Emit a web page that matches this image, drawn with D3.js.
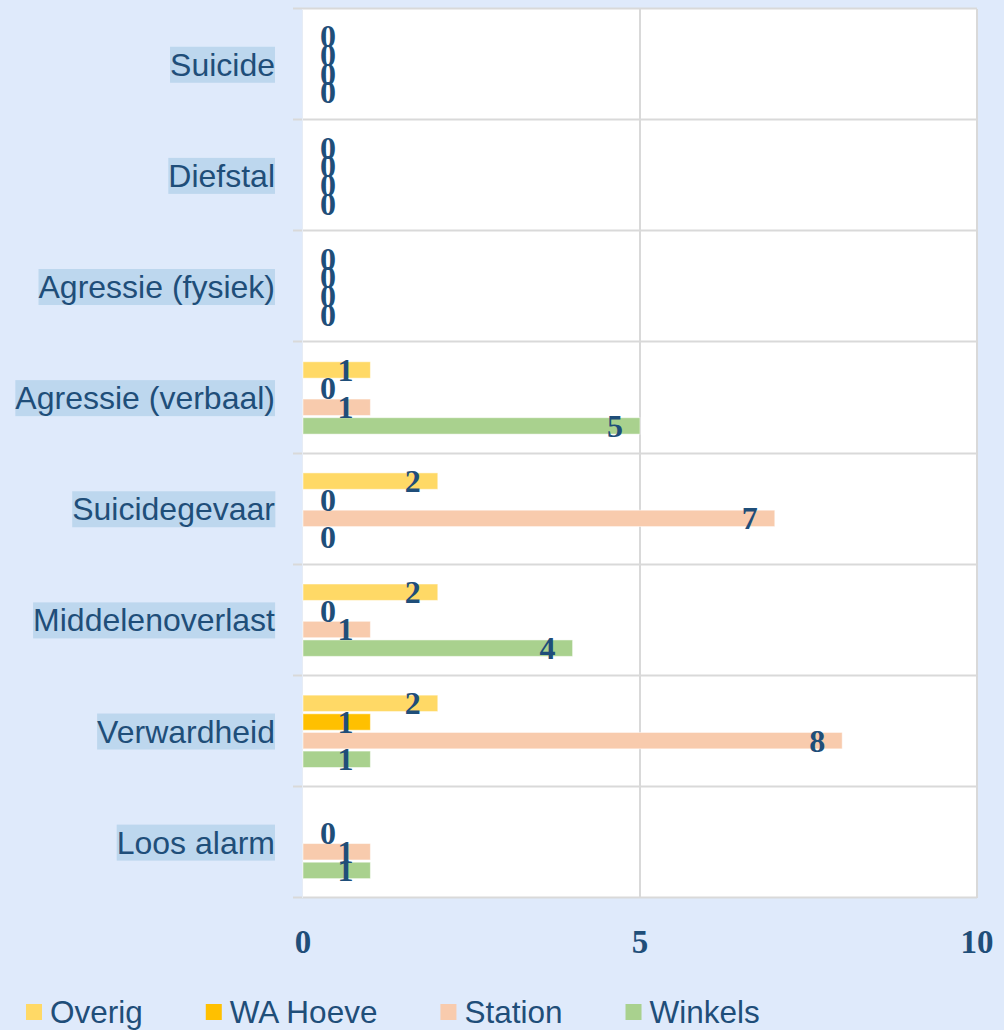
<!DOCTYPE html>
<html>
<head>
<meta charset="utf-8">
<script src="https://cdn.jsdelivr.net/npm/d3@7"></script>
<style>
  html, body { margin: 0; padding: 0; background: #dfeafb; }
  svg { display: block; }
</style>
</head>
<body>
<svg id="chart" width="1004" height="1030"></svg>
<script>
const categories = ["Suicide", "Diefstal", "Agressie (fysiek)", "Agressie (verbaal)", "Suicidegevaar", "Middelenoverlast", "Verwardheid", "Loos alarm"];
const seriesNames = ["Overig", "WA Hoeve", "Station", "Winkels"];
const overig   = [0, 0, 0, 1, 2, 2, 2, null];
const waHoeve  = [0, 0, 0, 0, 0, 0, 1, 0];
const station  = [0, 0, 0, 1, 7, 1, 8, 1];
const winkels  = [0, 0, 0, 5, 0, 4, 1, 1];
const seriesColors = ["#ffd966", "#ffc000", "#f8cbad", "#a9d18e"];
const xTicks = [0, 5, 10];

const seriesValues = [overig, waHoeve, station, winkels];
const textColor = "#1f4e79";

const svg = d3.select("#chart");
svg.append("rect").attr("width", 1004).attr("height", 1030).attr("fill", "#dfeafb");

const plot = { left: 303, right: 977, top: 9, bottom: 898 };

const x = d3.scaleLinear().domain([0, 10]).range([plot.left, plot.right]);
const y = d3.scaleBand().domain(categories).range([plot.top, plot.bottom]).padding(0);
const inner = d3.scaleBand().domain(seriesNames)
  .range([-37.3, 37.3]).paddingInner(0.12).paddingOuter(0.06);

// plot area
svg.append("rect")
  .attr("x", plot.left).attr("y", plot.top)
  .attr("width", plot.right - plot.left).attr("height", plot.bottom - plot.top)
  .attr("fill", "#ffffff");

// horizontal grid (category boundaries)
const bounds = categories.map(c => y(c)).concat([plot.bottom]);
svg.append("g").selectAll("line").data(bounds).join("line")
  .attr("x1", plot.left - 10).attr("x2", plot.right)
  .attr("y1", d => Math.round(d) - 0.5).attr("y2", d => Math.round(d) - 0.5)
  .attr("stroke", "#d9d9d9").attr("stroke-width", 2);

// vertical grid
svg.append("g").selectAll("line").data(xTicks.filter(t => t > 0)).join("line")
  .attr("x1", d => x(d)).attr("x2", d => x(d))
  .attr("y1", plot.top).attr("y2", plot.bottom)
  .attr("stroke", "#d9d9d9").attr("stroke-width", 2);

// left axis line (faint)
svg.append("line")
  .attr("x1", plot.left - 0.5).attr("x2", plot.left - 0.5)
  .attr("y1", plot.top).attr("y2", plot.bottom)
  .attr("stroke", "#e6ecf5").attr("stroke-width", 1);

// bars
const rows = [];
categories.forEach((c, i) => {
  seriesNames.forEach((s, j) => {
    rows.push({ cat: c, series: s, value: seriesValues[j][i], color: seriesColors[j] });
  });
});

const barsG = svg.append("g");
barsG.selectAll("rect").data(rows.filter(d => d.value !== null && d.value > 0)).join("rect")
  .attr("x", x(0))
  .attr("y", d => y(d.cat) + y.bandwidth() / 2 + inner(d.series))
  .attr("width", d => x(d.value) - x(0))
  .attr("height", inner.bandwidth())
  .attr("fill", d => d.color)
  .attr("stroke", "rgba(255,255,255,0.5)")
  .attr("stroke-width", 1);

// value labels
svg.append("g").selectAll("text").data(rows.filter(d => d.value !== null)).join("text")
  .attr("x", d => d.value > 0 ? x(d.value) - 17 : x(0) + 17)
  .attr("y", d => y(d.cat) + y.bandwidth() / 2 + inner(d.series) + inner.bandwidth() / 2)
  .attr("dy", "0.34em")
  .attr("text-anchor", d => d.value > 0 ? "end" : "start")
  .attr("font-family", "'Liberation Serif', 'DejaVu Serif', serif")
  .attr("font-weight", "bold")
  .attr("font-size", 32)
  .attr("fill", textColor)
  .text(d => d.value);

// category labels with highlight
const catG = svg.append("g");
categories.forEach(c => {
  const g = catG.append("g");
  const t = g.append("text")
    .attr("x", 275)
    .attr("y", y(c) + y.bandwidth() / 2)
    .attr("dy", "0.35em")
    .attr("text-anchor", "end")
    .attr("font-family", "'Liberation Sans', Arial, sans-serif")
    .attr("font-size", 32)
    .attr("fill", textColor)
    .text(c);
  const bb = t.node().getBBox();
  g.insert("rect", "text")
    .attr("x", bb.x).attr("y", bb.y)
    .attr("width", bb.width).attr("height", bb.height)
    .attr("fill", "#bdd7ee");
});

// x axis tick labels
svg.append("g").selectAll("text").data(xTicks).join("text")
  .attr("x", d => x(d))
  .attr("y", 942)
  .attr("dy", "0.34em")
  .attr("text-anchor", "middle")
  .attr("font-family", "'Liberation Serif', 'DejaVu Serif', serif")
  .attr("font-weight", "bold")
  .attr("font-size", 33)
  .attr("fill", textColor)
  .text(d => d);

// legend
const legend = svg.append("g");
let lx = 26;
seriesNames.forEach((s, j) => {
  legend.append("rect")
    .attr("x", lx).attr("y", 1004)
    .attr("width", 16).attr("height", 16)
    .attr("fill", seriesColors[j]);
  const t = legend.append("text")
    .attr("x", lx + 24).attr("y", 1012)
    .attr("dy", "0.35em")
    .attr("font-family", "'Liberation Sans', Arial, sans-serif")
    .attr("font-size", 31.5)
    .attr("fill", textColor)
    .text(s);
  lx = lx + 24 + t.node().getComputedTextLength() + 63;
});
</script>
</body>
</html>
